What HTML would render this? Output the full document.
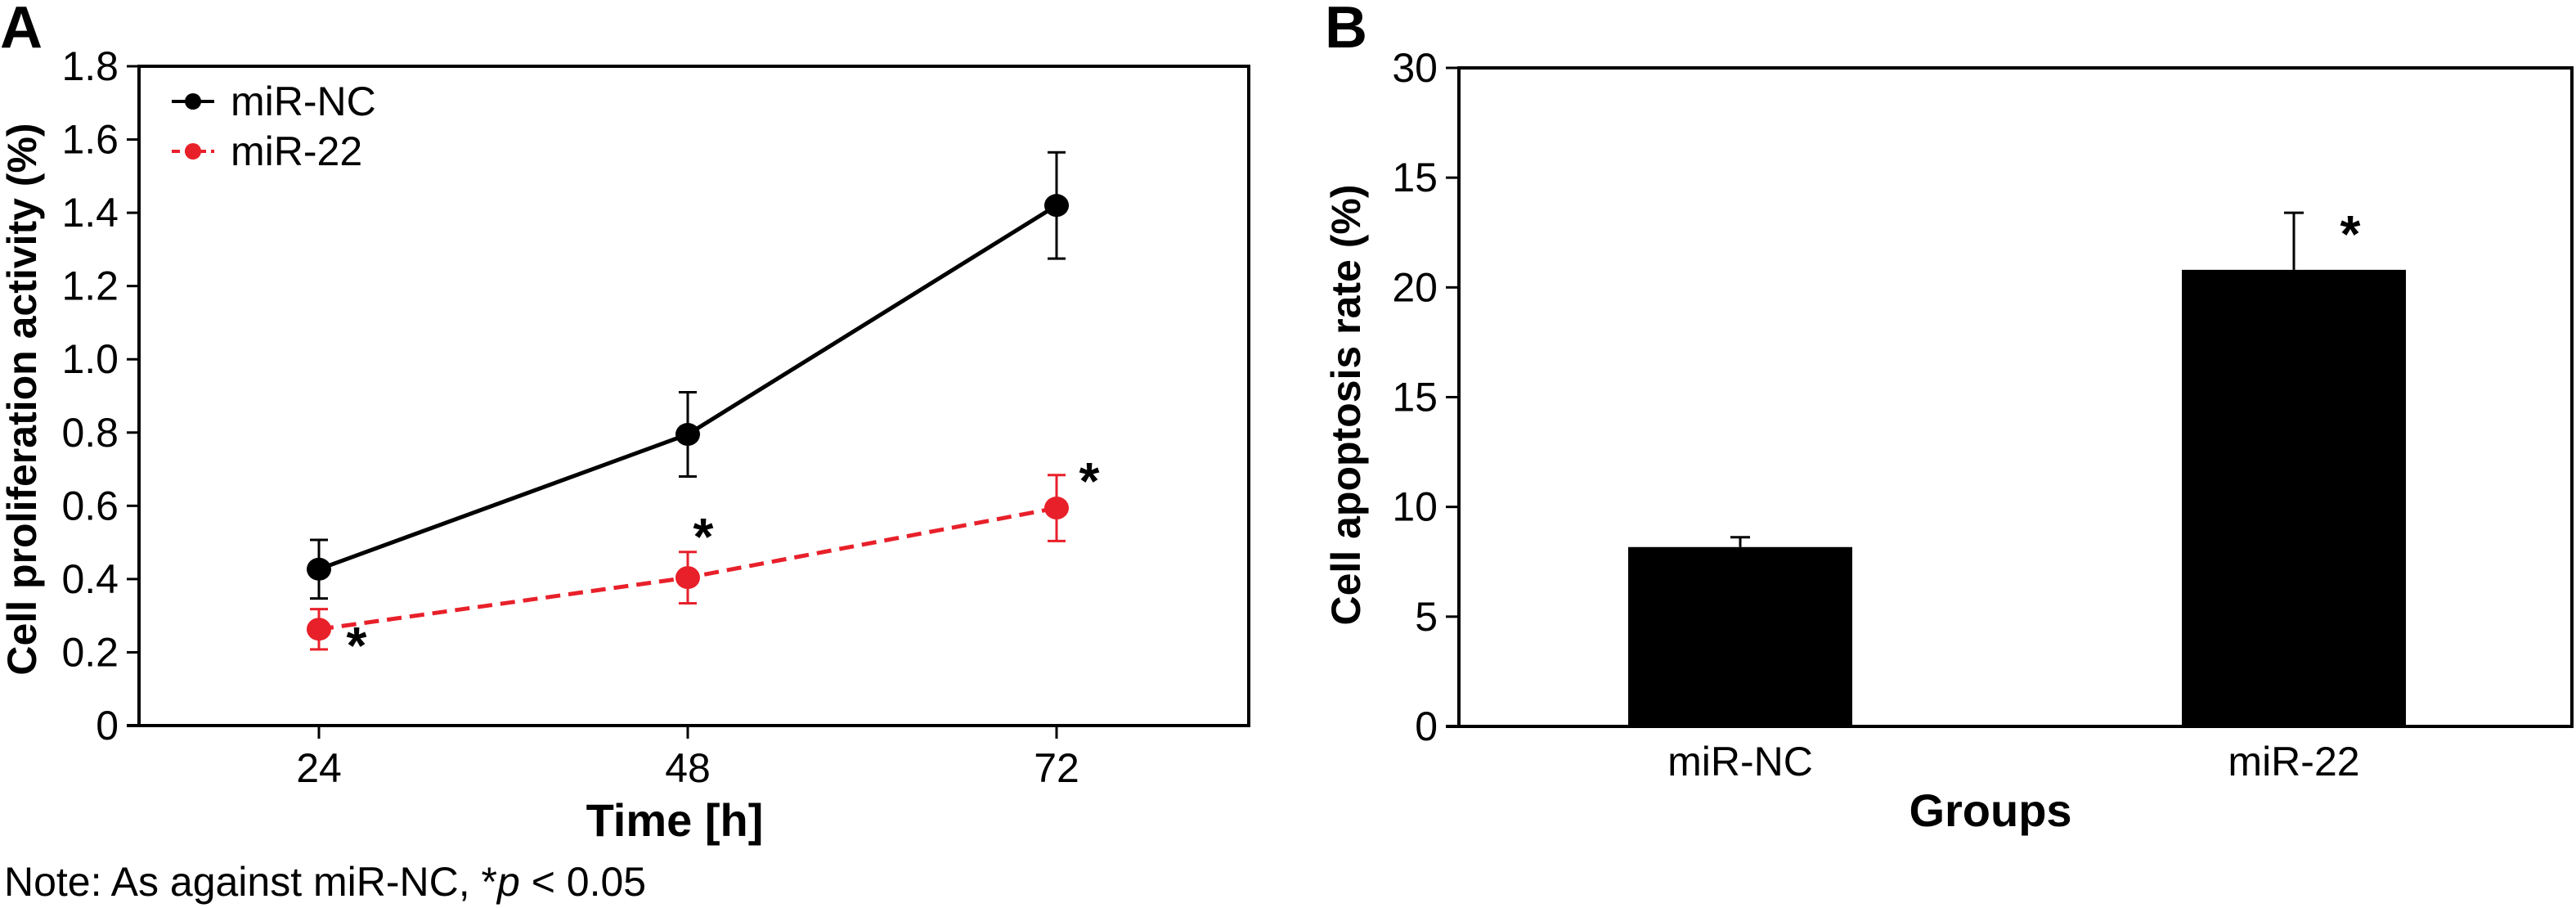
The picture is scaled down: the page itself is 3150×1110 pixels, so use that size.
<!DOCTYPE html>
<html><head><meta charset="utf-8"><style>
html,body{margin:0;padding:0;background:#fff;}
svg{display:block;}
text{font-family:"Liberation Sans Narrow","Liberation Sans",sans-serif;fill:#000;}
.b{font-weight:bold;}
</style></head><body>
<svg id="fig" width="3150" height="1110" viewBox="0 0 3150 1110" xmlns="http://www.w3.org/2000/svg">
<g id="pa"></g>
<g id="pb"></g>
</svg>
<script>
const timeCats = [24, 48, 72];
const ncValues = [0.427, 0.795, 1.42];
const ncErrors = [0.08, 0.115, 0.145];
const m22Values = [0.263, 0.404, 0.594];
const m22Errors = [0.055, 0.07, 0.09];
const yTicksA = [0, 0.2, 0.4, 0.6, 0.8, 1.0, 1.2, 1.4, 1.6, 1.8];
const yTickLabelsA = ["0","0.2","0.4","0.6","0.8","1.0","1.2","1.4","1.6","1.8"];
const groupCats = ["miR-NC", "miR-22"];
const groupValues = [8.17, 20.8];
const groupErrors = [0.45, 2.6];
const yTicksB = [0, 5, 10, 15, 20, 25, 30];
const yTickLabelsB = ["0","5","10","15","20","15","30"];

const NS = "http://www.w3.org/2000/svg";
function mk(parent, tag, attrs, txt){
  const e = document.createElementNS(NS, tag);
  for (const k in attrs) e.setAttribute(k, attrs[k]);
  if (txt !== undefined) e.textContent = txt;
  parent.appendChild(e);
  return e;
}
// Panel A
const A = document.getElementById('pa');
const aL=170,aR=1527,aT=81,aB=887;
const xA = t => 390 + (t-24)*(1292-390)/48;
const yA = v => aB - v*(aB-aT)/1.8;
let e;
e = mk(A,'text',{x:0,y:58,'font-size':72,class:'b'},'A');


e = mk(A,'rect',{x:aL,y:aT,width:aR-aL,height:aB-aT,fill:'none',stroke:'#000','stroke-width':4});


yTicksA.forEach((v,i)=>{
  e = mk(A,'line',{x1:155,x2:aL,y1:yA(v),y2:yA(v),stroke:'#000','stroke-width':3});
  
  
  e = mk(A,'text',{x:145,y:yA(v)+17,'font-size':50,'text-anchor':'end'},yTickLabelsA[i]);
  
  
});
mk(A,'line',{x1:155,x2:aL,y1:aB,y2:aB,stroke:'#000','stroke-width':4});
timeCats.forEach(t=>{
  e = mk(A,'line',{x1:xA(t),x2:xA(t),y1:aB,y2:aB+16,stroke:'#000','stroke-width':3});
  
  
  e = mk(A,'text',{x:xA(t),y:956,'font-size':50,'text-anchor':'middle'},String(t));
  
  
});
e = mk(A,'text',{x:825,y:1022,'font-size':56,'text-anchor':'middle',class:'b'},'Time [h]');


e = mk(A,'text',{x:0,y:0,'font-size':50,'text-anchor':'middle',class:'b',transform:'translate(44,488) rotate(-90)',style:'font-family:"Liberation Sans",sans-serif'},'Cell proliferation activity (%)');


e = mk(A,'text',{x:5,y:1095,'font-size':50},'Note: As against miR-NC, *');


mk(e,'tspan',{'font-style':'italic'},'p');
mk(e,'tspan',{},' < 0.05');

function series(vals, errs, color, dash, name){
  const g = mk(A,'g',{});
  
  
  const pts = vals.map((v,i)=>xA(timeCats[i])+','+yA(v)).join(' ');
  e = mk(g,'polyline',{points:pts,fill:'none',stroke:color,'stroke-width':5,'stroke-dasharray':dash});
  
  
  vals.forEach((v,i)=>{
    const x=xA(timeCats[i]);
    e = mk(g,'path',{d:`M${x},${yA(v+errs[i])}V${yA(v-errs[i])}M${x-11},${yA(v+errs[i])}h22M${x-11},${yA(v-errs[i])}h22`,stroke:color,'stroke-width':3,fill:'none'});
    
    
    e = mk(g,'ellipse',{cx:x,cy:yA(v),rx:15,ry:14,fill:color});
    
    
  });
}
series(ncValues,ncErrors,'#000','none','series-mir-nc');
series(m22Values,m22Errors,'#e8202a','18 10','series-mir-22');
const starX=[436,860,1332];
const starY=[811,678,610];
starX.forEach((sx,i)=>{
  e = mk(A,'text',{x:sx,y:starY[i],'font-size':64,'text-anchor':'middle',class:'b'},'*');
  
  
});
// legend
e = mk(A,'line',{x1:210,x2:262,y1:124,y2:124,stroke:'#000','stroke-width':4});

mk(A,'circle',{cx:236,cy:124,r:10,fill:'#000'});
e = mk(A,'text',{x:282,y:141,'font-size':50},'miR-NC');

e = mk(A,'line',{x1:210,x2:262,y1:185,y2:185,stroke:'#e8202a','stroke-width':4,'stroke-dasharray':'10 6'});

mk(A,'circle',{cx:236,cy:185,r:10,fill:'#e8202a'});
e = mk(A,'text',{x:282,y:202,'font-size':50},'miR-22');


// Panel B
const B = document.getElementById('pb');
const bL=1784,bR=3145,bT=83,bB=888;
const yB = v => bB - v*(bB-bT)/30;
const barCenters=[2128,2805], barW=274;
e = mk(B,'text',{x:1620,y:58,'font-size':72,class:'b'},'B');

e = mk(B,'rect',{x:bL,y:bT,width:bR-bL,height:bB-bT,fill:'none',stroke:'#000','stroke-width':4});

yTicksB.forEach((v,i)=>{
  e = mk(B,'line',{x1:1768,x2:bL,y1:yB(v),y2:yB(v),stroke:'#000','stroke-width':3});
  
  e = mk(B,'text',{x:1758,y:yB(v)+17,'font-size':50,'text-anchor':'end'},yTickLabelsB[i]);
  
});
mk(B,'line',{x1:1768,x2:bL,y1:bB,y2:bB,stroke:'#000','stroke-width':4});
groupCats.forEach((c,i)=>{
  const cx=barCenters[i], v=groupValues[i];
  e = mk(B,'rect',{x:cx-barW/2,y:yB(v),width:barW,height:bB-yB(v),fill:'#000'});
  
  e = mk(B,'path',{d:`M${cx},${yB(v)}V${yB(v+groupErrors[i])}M${cx-12},${yB(v+groupErrors[i])}h24`,stroke:'#000','stroke-width':3,fill:'none'});
  
  e = mk(B,'text',{x:cx,y:948,'font-size':50,'text-anchor':'middle'},c);
  
});
e = mk(B,'text',{x:2874,y:yB(groupValues[1]+groupErrors[1])+48,'font-size':64,'text-anchor':'middle',class:'b'},'*');

e = mk(B,'text',{x:2434,y:1010,'font-size':56,'text-anchor':'middle',class:'b'},'Groups');

e = mk(B,'text',{x:0,y:0,'font-size':50,'text-anchor':'middle',class:'b',transform:'translate(1663,495) rotate(-90)',style:'font-family:"Liberation Sans",sans-serif'},'Cell apoptosis rate (%)');

</script>
</body></html>
